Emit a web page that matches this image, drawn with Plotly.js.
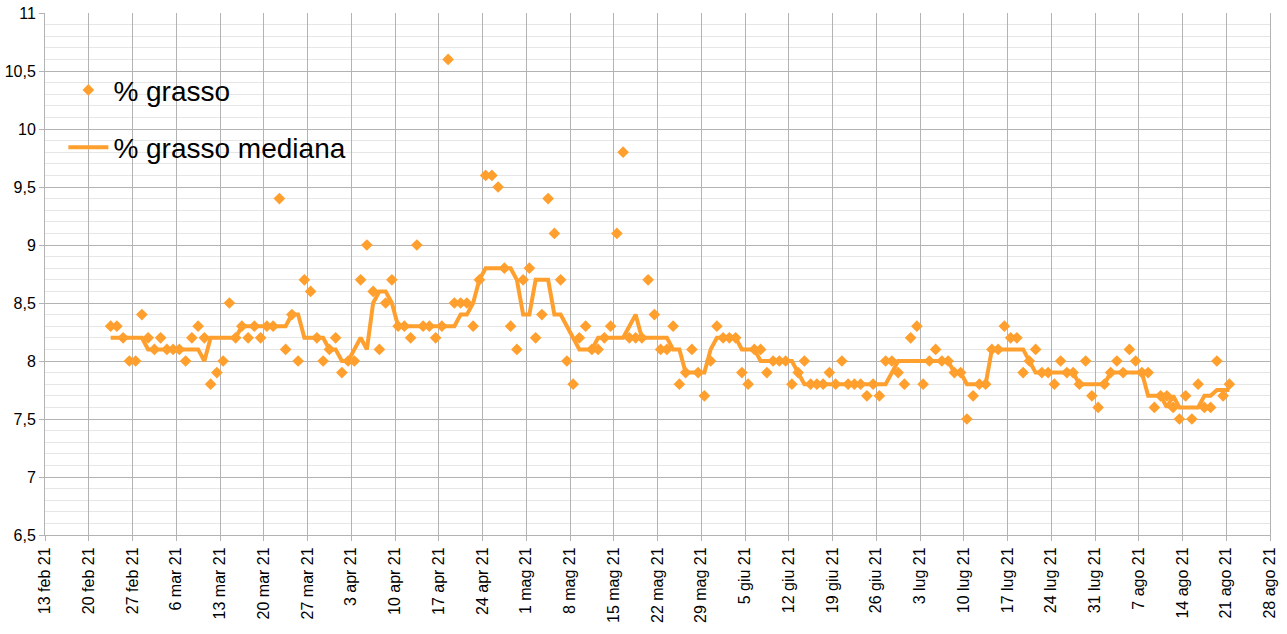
<!DOCTYPE html>
<html>
<head>
<meta charset="utf-8">
<script src="https://cdn.plot.ly/plotly-3.0.1.min.js"></script>
<style>html,body{margin:0;padding:0;background:#fff}#plot{width:1287px;height:634px}</style>
</head>
<body>
<div id="plot"></div>
<script>
// one reading per day, starting 23 feb 2021 (midday)
const startDate = "2021-02-23";

const grasso = [
  8.3, 8.3, 8.2, 8.0, 8.0, 8.4, 8.2, 8.1, 8.2, 8.1, 8.1, 8.1, 8.0, 8.2, 8.3, 8.2, 7.8, 7.9, 8.0, 8.5,
  8.2, 8.3, 8.2, 8.3, 8.2, 8.3, 8.3, 9.4, 8.1, 8.4, 8.0, 8.7, 8.6, 8.2, 8.0, 8.1, 8.2, 7.9, 8.0, 8.0,
  8.7, 9.0, 8.6, 8.1, 8.5, 8.7, 8.3, 8.3, 8.2, 9.0, 8.3, 8.3, 8.2, 8.3, 10.6, 8.5, 8.5, 8.5, 8.3, 8.7,
  9.6, 9.6, 9.5, 8.8, 8.3, 8.1, 8.7, 8.8, 8.2, 8.4, 9.4, 9.1, 8.7, 8.0, 7.8, 8.2, 8.3, 8.1, 8.1, 8.2,
  8.3, 9.1, 9.8, 8.2, 8.2, 8.2, 8.7, 8.4, 8.1, 8.1, 8.3, 7.8, 7.9, 8.1, 7.9, 7.7, 8.0, 8.3, 8.2, 8.2,
  8.2, 7.9, 7.8, 8.1, 8.1, 7.9, 8.0, 8.0, 8.0, 7.8, 7.9, 8.0, 7.8, 7.8, 7.8, 7.9, 7.8, 8.0, 7.8, 7.8,
  7.8, 7.7, 7.8, 7.7, 8.0, 8.0, 7.9, 7.8, 8.2, 8.3, 7.8, 8.0, 8.1, 8.0, 8.0, 7.9, 7.9, 7.5, 7.7, 7.8,
  7.8, 8.1, 8.1, 8.3, 8.2, 8.2, 7.9, 8.0, 8.1, 7.9, 7.9, 7.8, 8.0, 7.9, 7.9, 7.8, 8.0, 7.7, 7.6, 7.8,
  7.9, 8.0, 7.9, 8.1, 8.0, 7.9, 7.9, 7.6, 7.7, 7.7, 7.6, 7.5, 7.7, 7.5, 7.8, 7.6, 7.6, 8.0, 7.7, 7.8
];

const grassoMediana = [
  8.2, 8.2, 8.2, 8.2, 8.2, 8.2, 8.1, 8.1, 8.1, 8.1, 8.1, 8.1, 8.1, 8.1, 8.1, 8.0, 8.2, 8.2, 8.2, 8.2,
  8.2, 8.3, 8.3, 8.3, 8.3, 8.3, 8.3, 8.3, 8.3, 8.4, 8.4, 8.2, 8.2, 8.2, 8.2, 8.1, 8.1, 8.0, 8.0, 8.1,
  8.2, 8.1, 8.5, 8.6, 8.6, 8.5, 8.3, 8.3, 8.3, 8.3, 8.3, 8.3, 8.3, 8.3, 8.3, 8.3, 8.4, 8.4, 8.5, 8.7,
  8.8, 8.8, 8.8, 8.8, 8.8, 8.7, 8.4, 8.4, 8.7, 8.7, 8.7, 8.4, 8.4, 8.3, 8.2, 8.1, 8.1, 8.1, 8.2, 8.2,
  8.2, 8.2, 8.2, 8.3, 8.4, 8.2, 8.2, 8.2, 8.2, 8.2, 8.1, 8.1, 7.9, 7.9, 7.9, 7.9, 8.1, 8.2, 8.2, 8.2,
  8.2, 8.1, 8.1, 8.1, 8.0, 8.0, 8.0, 8.0, 8.0, 8.0, 7.9, 7.8, 7.8, 7.8, 7.8, 7.8, 7.8, 7.8, 7.8, 7.8,
  7.8, 7.8, 7.8, 7.8, 7.8, 7.9, 8.0, 8.0, 8.0, 8.0, 8.0, 8.0, 8.0, 8.0, 8.0, 7.9, 7.9, 7.8, 7.8, 7.8,
  7.8, 8.1, 8.1, 8.1, 8.1, 8.1, 8.1, 8.0, 7.9, 7.9, 7.9, 7.9, 7.9, 7.9, 7.9, 7.8, 7.8, 7.8, 7.8, 7.8,
  7.9, 7.9, 7.9, 7.9, 7.9, 7.9, 7.7, 7.7, 7.7, 7.6, 7.7, 7.6, 7.6, 7.6, 7.6, 7.7, 7.7, 7.75, 7.75, 7.75
];

const tickDates = [
  "2021-02-13", "2021-02-20", "2021-02-27", "2021-03-06", "2021-03-13", "2021-03-20", "2021-03-27",
  "2021-04-03", "2021-04-10", "2021-04-17", "2021-04-24", "2021-05-01", "2021-05-08", "2021-05-15",
  "2021-05-22", "2021-05-29", "2021-06-05", "2021-06-12", "2021-06-19", "2021-06-26", "2021-07-03",
  "2021-07-10", "2021-07-17", "2021-07-24", "2021-07-31", "2021-08-07", "2021-08-14", "2021-08-21",
  "2021-08-28"
];
const tickLabels = [
  "13 feb 21", "20 feb 21", "27 feb 21", "6 mar 21", "13 mar 21", "20 mar 21", "27 mar 21",
  "3 apr 21", "10 apr 21", "17 apr 21", "24 apr 21", "1 mag 21", "8 mag 21", "15 mag 21",
  "22 mag 21", "29 mag 21", "5 giu 21", "12 giu 21", "19 giu 21", "26 giu 21", "3 lug 21",
  "10 lug 21", "17 lug 21", "24 lug 21", "31 lug 21", "7 ago 21", "14 ago 21", "21 ago 21",
  "28 ago 21"
];

function dayDates(start, n) {
  const d0 = new Date(start + "T12:00:00Z");
  const out = [];
  for (let i = 0; i < n; i++) {
    const d = new Date(d0.getTime() + i * 86400000);
    out.push(d.toISOString().slice(0, 16).replace("T", " "));
  }
  return out;
}

const dates = dayDates(startDate, grasso.length);
const orange = "#ff9f2e";

Plotly.newPlot("plot", [
  {
    x: dates, y: grasso, mode: "markers", name: "% grasso", legendgroup: "a",
    marker: { symbol: "diamond", size: 9, color: orange }
  },
  {
    x: dates, y: grassoMediana, mode: "lines", name: "% grasso mediana", legendgroup: "b",
    line: { color: orange, width: 4 }
  }
], {
  width: 1287, height: 634,
  margin: { l: 45, r: 17, t: 13, b: 99 },
  paper_bgcolor: "#fff", plot_bgcolor: "#fff",
  separators: ",.",
  font: { family: "Liberation Sans, Arial, sans-serif", size: 16, color: "#000" },
  showlegend: true,
  legend: {
    x: 0.015, y: 0.9, xanchor: "left", yanchor: "top",
    traceorder: "grouped", tracegroupgap: 18,
    font: { size: 28, color: "#000" }, bgcolor: "rgba(0,0,0,0)", itemwidth: 40
  },
  xaxis: {
    type: "date", range: ["2021-02-13", "2021-08-28"],
    tickvals: tickDates, ticktext: tickLabels, tickangle: -90,
    showgrid: true, gridcolor: "#b3b3b3", gridwidth: 1,
    showline: true, linecolor: "#b3b3b3", zeroline: false,
    ticks: "outside", ticklen: 5, tickcolor: "#b3b3b3"
  },
  yaxis: {
    range: [6.5, 11], dtick: 0.5, tick0: 6.5,
    showgrid: true, gridcolor: "#b3b3b3", gridwidth: 1,
    minor: { dtick: 0.1, showgrid: true, gridcolor: "#e6e6e6", gridwidth: 1 },
    showline: true, linecolor: "#b3b3b3", zeroline: false, mirror: true,
    ticks: "outside", ticklen: 5, tickcolor: "#b3b3b3"
  }
}, { displayModeBar: false });
</script>
</body>
</html>
